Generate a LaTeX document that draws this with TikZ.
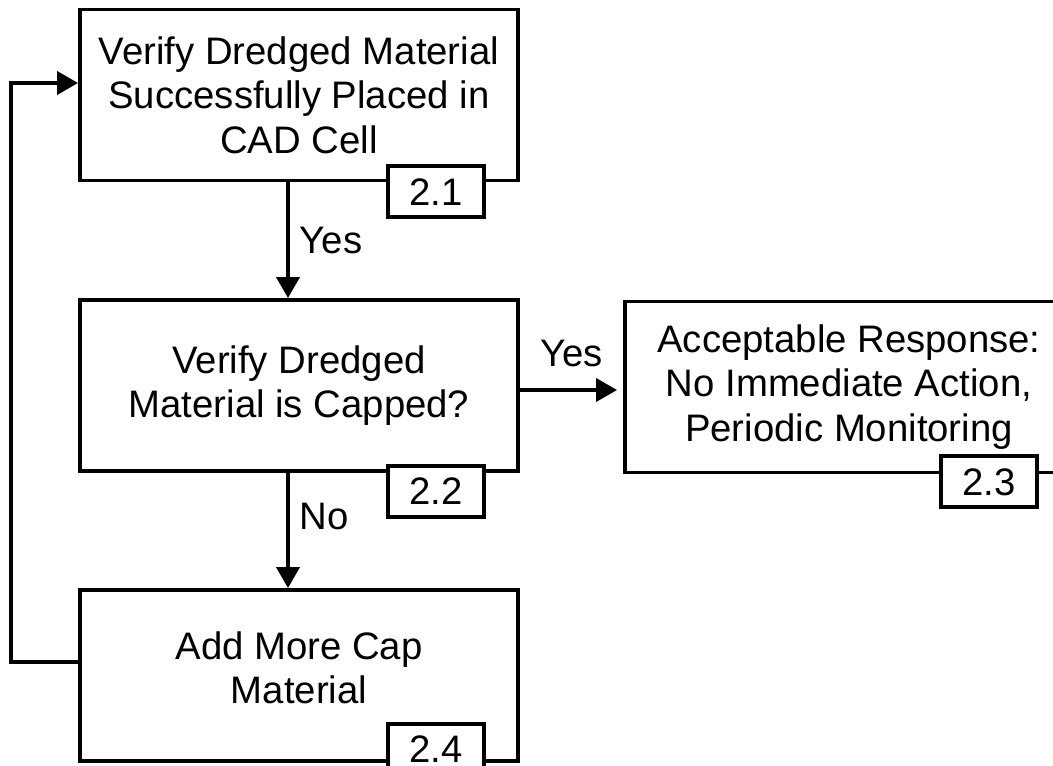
\documentclass[tikz,border=0pt]{standalone}
\usepackage{fontspec}
\setmainfont{Liberation Sans}
\usetikzlibrary{positioning,arrows.meta}

\tikzset{
	stage/.style={draw, line width=2.2pt, minimum width=8.76cm, minimum height=3.42cm,
		align=center, font=\fontsize{21.8}{25.3}\selectfont},
	tag/.style={draw, fill=white, line width=2.2pt, minimum width=1.92cm,
		minimum height=1.02cm, inner sep=0pt, anchor=north east,
		font=\fontsize{21.8}{25.3}\selectfont},
	flow/.style={line width=2.2pt, -{Triangle[length=0.42cm,width=0.46cm]}},
	answer/.style={font=\fontsize{21.8}{25.3}\selectfont},
}

\begin{document}
\begin{tikzpicture}
	\useasboundingbox (0,0) rectangle (21.06,15.32);

	% main boxes
	\node[stage] (check) at (5.98,13.42) {Verify Dredged Material\\Successfully Placed in\\CAD Cell};
	\node[stage] (capped) at (5.98,7.61) {Verify Dredged\\Material is Capped?};
	\node[stage, minimum width=8.96cm] (accept) at (16.98,7.58) {Acceptable Response:\\No Immediate Action,\\Periodic Monitoring};
	\node[stage] (addcap) at (5.98,1.81) {Add More Cap\\Material\\[-0.57cm]\mbox{}};

	% step numbers
	\node[tag] (t21) at ([xshift=-0.68cm, yshift=0.36cm]check.south east) {2.1};
	\node[tag] (t22) at ([xshift=-0.68cm, yshift=0.18cm]capped.south east) {2.2};
	\node[tag] (t23) at ([xshift=-0.72cm, yshift=0.40cm]accept.south east) {2.3};
	\node[tag] (t24) at ([xshift=-0.68cm, yshift=0.82cm]addcap.south east) {2.4};

	% connectors
	\coordinate (back) at (0.22,8);
	\draw[flow] ([xshift=-0.22cm]check.south) -- node[answer, right=0.08cm] {Yes} ([xshift=-0.22cm]capped.north);
	\draw[flow] ([xshift=-0.22cm]capped.south) -- node[answer, right=0.08cm, pos=0.38] {No} ([xshift=-0.22cm]addcap.north);
	\draw[flow, shorten >=0.12cm] ([yshift=-0.09cm]capped.east) -- node[answer, above=0.3cm] {Yes} ([yshift=-0.09cm]capped.east -| accept.west);
	\draw[flow] ([yshift=0.27cm]addcap.west) -| (back) |- ([yshift=0.24cm]check.west);
\end{tikzpicture}
\end{document}
